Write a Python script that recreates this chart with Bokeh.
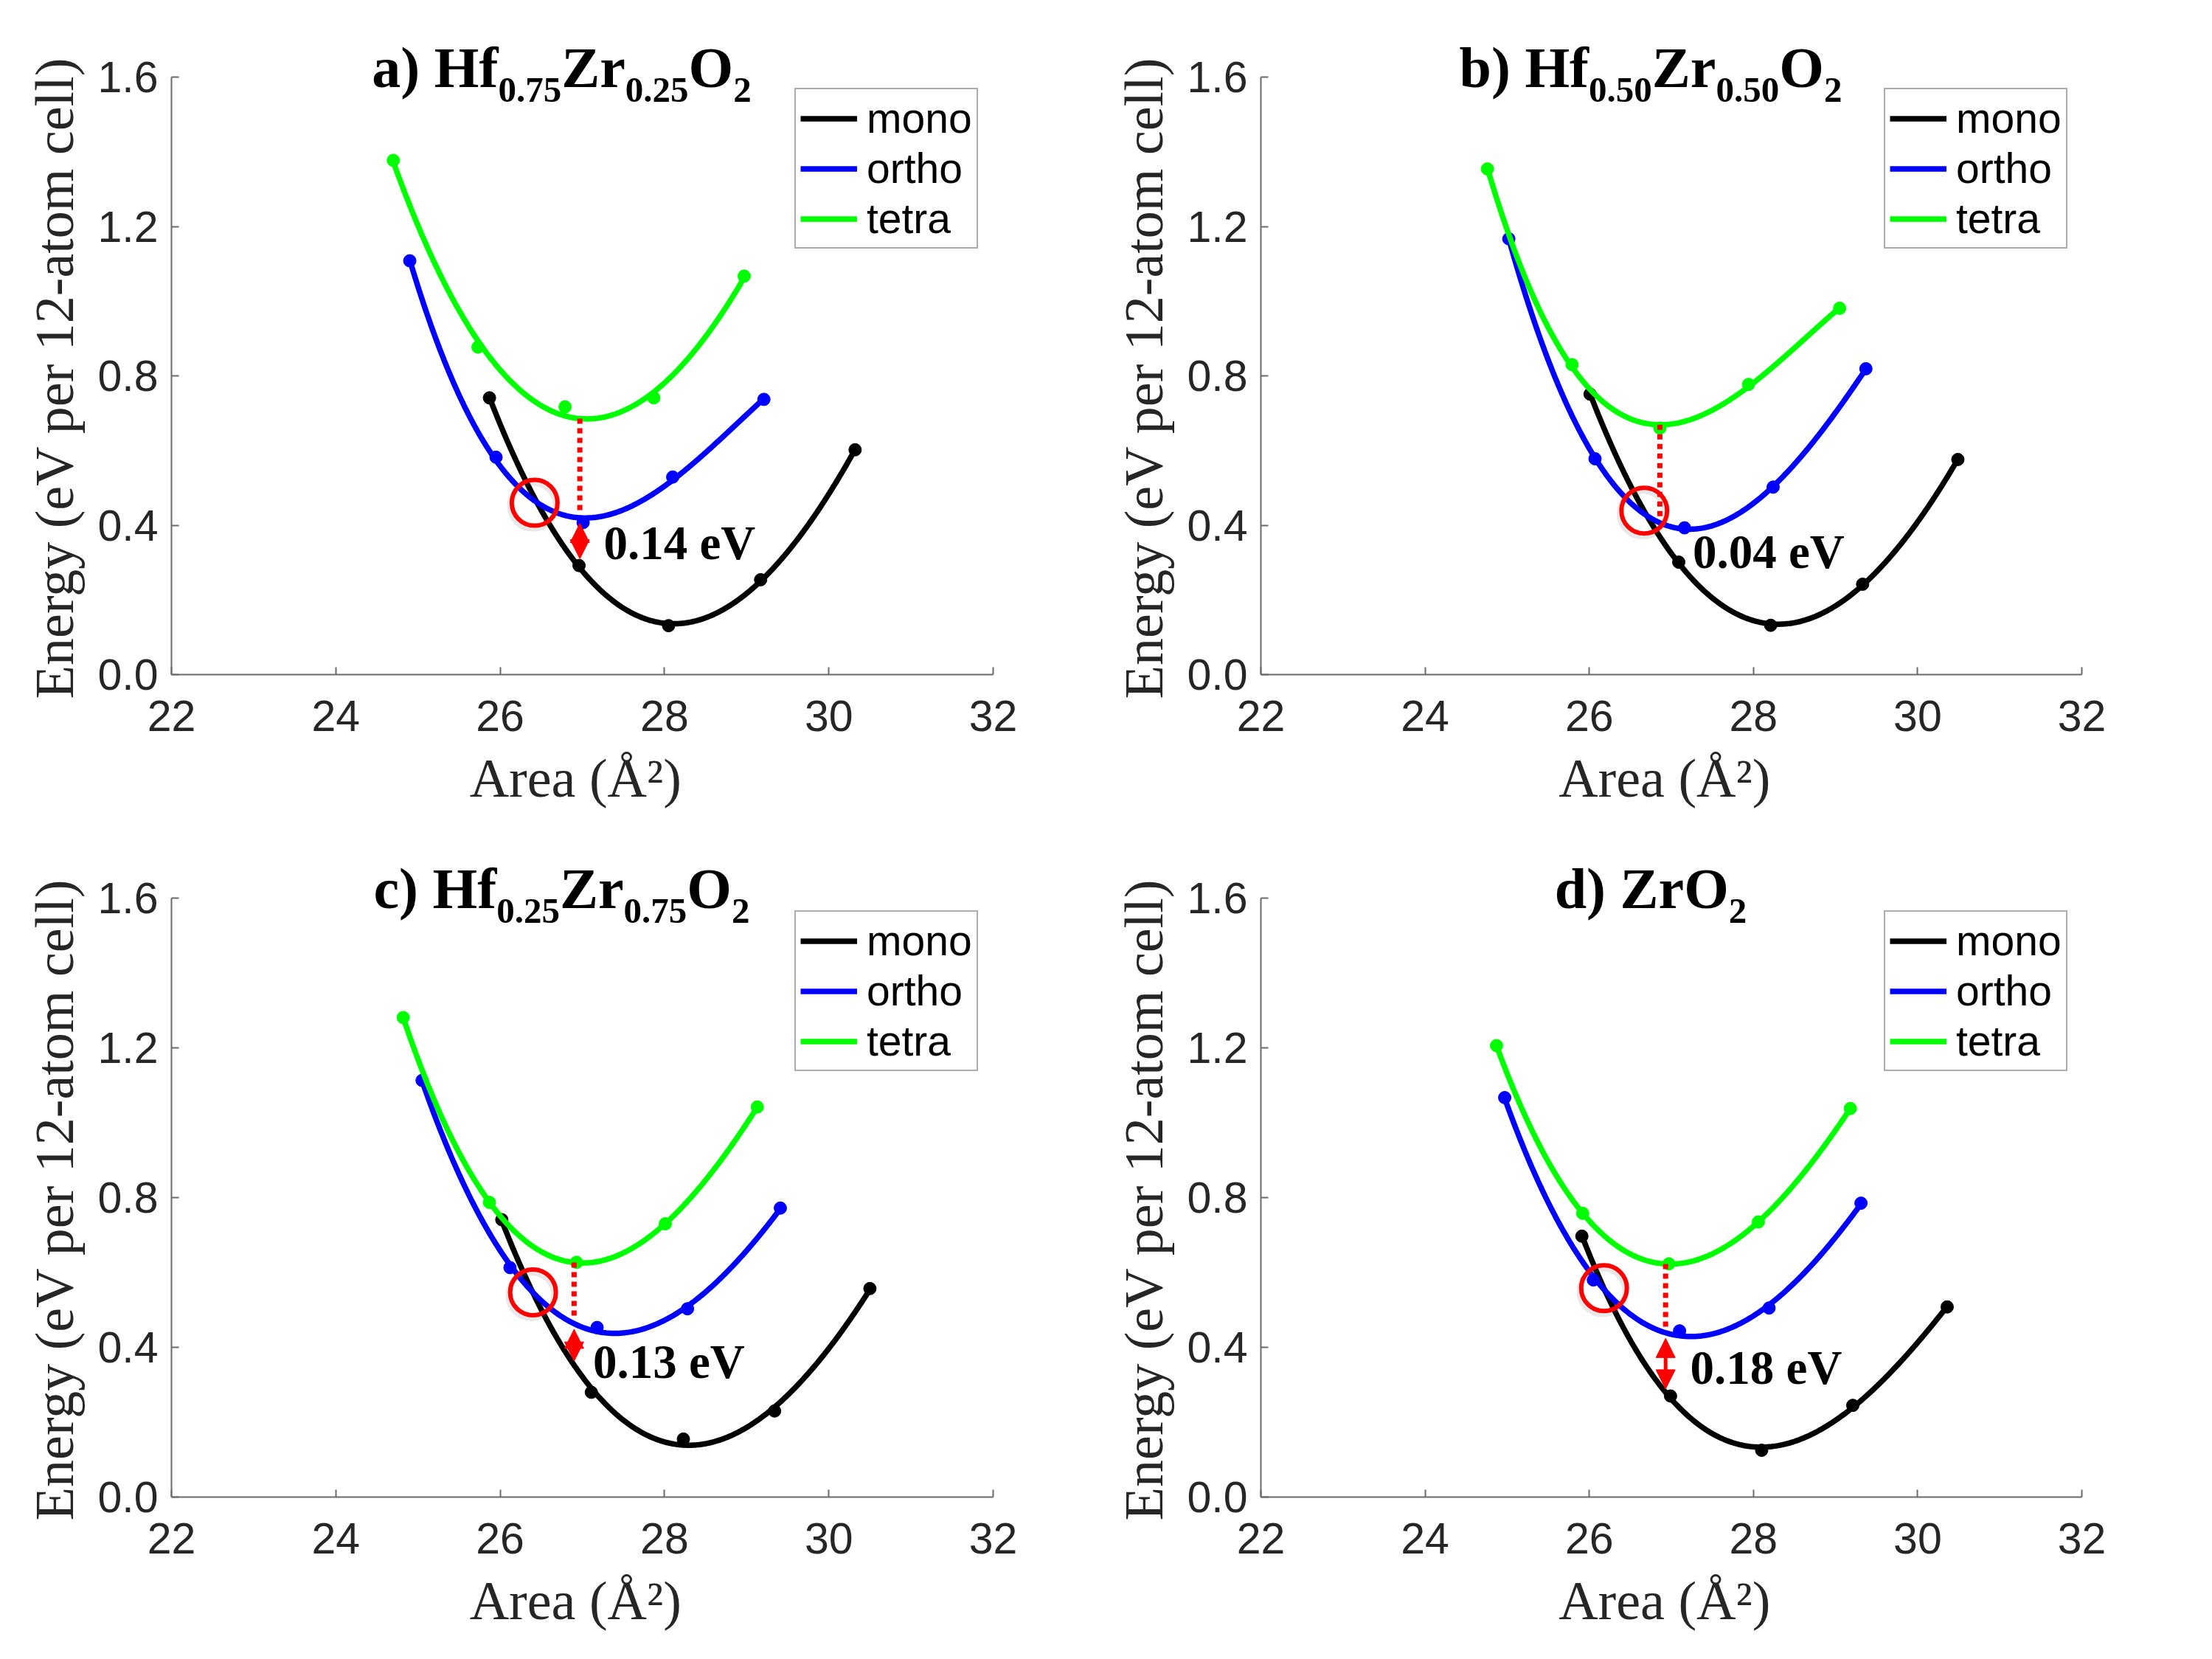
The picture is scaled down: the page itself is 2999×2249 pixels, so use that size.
import numpy as np
from bokeh.plotting import figure
from bokeh.layouts import gridplot
from bokeh.models import (Range1d, FixedTicker, PrintfTickFormatter, Legend,
                          LegendItem, Label, Arrow, NormalHead)
from bokeh.embed import file_html
from bokeh.resources import INLINE

# ---------------------------------------------------------------------------
# Energy (eV per 12-atom cell) versus in-plane area (Å^2) for each phase
# ---------------------------------------------------------------------------
# a) Hf0.75Zr0.25O2
a_mono_area = [25.87, 26.96, 28.05, 29.17, 30.32]
a_mono_energy = [0.741, 0.292, 0.131, 0.254, 0.602]
a_ortho_area = [24.90, 25.95, 27.01, 28.10, 29.21]
a_ortho_energy = [1.108, 0.582, 0.407, 0.529, 0.737]
a_tetra_area = [24.70, 25.73, 26.79, 27.87, 28.97]
a_tetra_energy = [1.377, 0.877, 0.717, 0.741, 1.067]

# b) Hf0.50Zr0.50O2
b_mono_area = [26.01, 27.09, 28.21, 29.33, 30.49]
b_mono_energy = [0.751, 0.301, 0.132, 0.242, 0.576]
b_ortho_area = [25.02, 26.07, 27.16, 28.24, 29.37]
b_ortho_energy = [1.167, 0.578, 0.393, 0.502, 0.819]
b_tetra_area = [24.76, 25.79, 26.86, 27.94, 29.05]
b_tetra_energy = [1.354, 0.830, 0.660, 0.777, 0.981]

# c) Hf0.25Zr0.75O2
c_mono_area = [26.02, 27.11, 28.23, 29.34, 30.50]
c_mono_energy = [0.741, 0.280, 0.155, 0.230, 0.557]
c_ortho_area = [25.05, 26.12, 27.18, 28.28, 29.41]
c_ortho_energy = [1.113, 0.613, 0.453, 0.503, 0.772]
c_tetra_area = [24.82, 25.87, 26.93, 28.01, 29.13]
c_tetra_energy = [1.281, 0.787, 0.627, 0.730, 1.042]

# d) ZrO2
d_mono_area = [25.91, 26.99, 28.10, 29.21, 30.36]
d_mono_energy = [0.697, 0.270, 0.125, 0.245, 0.508]
d_ortho_area = [24.97, 26.05, 27.10, 28.19, 29.31]
d_ortho_energy = [1.067, 0.580, 0.444, 0.505, 0.785]
d_tetra_area = [24.87, 25.92, 26.97, 28.06, 29.18]
d_tetra_energy = [1.206, 0.758, 0.623, 0.735, 1.038]

# ortho - mono energy difference quoted at the tetragonal minimum
gap_labels = ["0.14 eV", "0.04 eV", "0.13 eV", "0.18 eV"]
gap_values = [0.14, 0.04, 0.13, 0.18]
gap_area = [26.97, 26.86, 26.90, 26.93]
# mono/ortho crossing points that are circled
cross_area = [26.42, 26.67, 26.40, 26.18]
cross_energy = [0.460, 0.439, 0.547, 0.558]
# anchor (left end of the baseline) of the gap text
gap_text_area = [27.26, 27.26, 27.13, 27.23]
gap_text_energy = [0.307, 0.282, 0.315, 0.299]

# panel titles: (text, is_subscript)
titles = [
    [("a) Hf", 0), ("0.75", 1), ("Zr", 0), ("0.25", 1), ("O", 0), ("2", 1)],
    [("b) Hf", 0), ("0.50", 1), ("Zr", 0), ("0.50", 1), ("O", 0), ("2", 1)],
    [("c) Hf", 0), ("0.25", 1), ("Zr", 0), ("0.75", 1), ("O", 0), ("2", 1)],
    [("d) ZrO", 0), ("2", 1)],
]

phases = ["mono", "ortho", "tetra"]
phase_colors = ["#000000", "#0000ff", "#00ff00"]
x_ticks = [22, 24, 26, 28, 30, 32]
y_ticks = [0.0, 0.4, 0.8, 1.2, 1.6]

series = [
    [(a_mono_area, a_mono_energy), (a_ortho_area, a_ortho_energy), (a_tetra_area, a_tetra_energy)],
    [(b_mono_area, b_mono_energy), (b_ortho_area, b_ortho_energy), (b_tetra_area, b_tetra_energy)],
    [(c_mono_area, c_mono_energy), (c_ortho_area, c_ortho_energy), (c_tetra_area, c_tetra_energy)],
    [(d_mono_area, d_mono_energy), (d_ortho_area, d_ortho_energy), (d_tetra_area, d_tetra_energy)],
]

# Liberation Serif Bold advance widths (1/1000 em) for laying out the titles
BOLD_W = {'a': 500, ')': 333, ' ': 250, 'b': 556, 'c': 444, 'd': 556,
          'H': 778, 'f': 333, 'Z': 667, 'r': 444, 'O': 778, '.': 250}


def text_width(s, size):
    return sum(BOLD_W.get(ch, 500) for ch in s) * size / 1000.0


# figure geometry: (width, height, left, right, top of 1.6 line, bottom)
geometry = [
    (1500, 1120, 232, 154, 104, 206),
    (1499, 1120, 209, 177, 104, 206),
    (1500, 1129, 232, 154, 97, 220),
    (1499, 1129, 209, 177, 97, 220),
]

HEADROOM = 50       # px of frame kept above E = 1.6 for the title
MAIN_SIZE = 78
SUB_SIZE = 49
LABEL_LIFT = 0.36   # em; Label boxes sit this far below the requested baseline
AXIS_LABEL_SIZE = 74
NBSP = "\u00a0"
# non-breaking spaces at the top end keep the y label centred on 0 .. 1.6
Y_PAD = NBSP * round(HEADROOM / (0.25 * AXIS_LABEL_SIZE))


def make_panel(k):
    w, h, bl, br, bt, bb = geometry[k]
    axis_h = h - bt - bb
    px_per_e = axis_h / 1.6
    y_top = 1.6 + HEADROOM / px_per_e

    p = figure(width=w, height=h, output_backend="svg", toolbar_location=None,
               x_range=Range1d(22, 32), y_range=Range1d(0, y_top),
               min_border_left=bl, min_border_right=br,
               min_border_top=bt - HEADROOM, min_border_bottom=bb)
    p.outline_line_color = None
    p.grid.visible = False
    p.background_fill_color = "white"
    p.border_fill_color = "white"

    p.xaxis.ticker = FixedTicker(ticks=x_ticks)
    p.yaxis.ticker = FixedTicker(ticks=y_ticks)
    p.yaxis.bounds = (0, 1.6)
    p.xaxis.formatter = PrintfTickFormatter(format="%d")
    p.yaxis.formatter = PrintfTickFormatter(format="%.1f")
    p.xaxis.axis_label = "Area (Å²)" + NBSP
    p.yaxis.axis_label = "Energy (eV per 12-atom cell)" + Y_PAD
    for ax in (p.xaxis[0], p.yaxis[0]):
        ax.axis_line_color = "#6a6a6a"
        ax.axis_line_width = 2
        ax.major_tick_line_color = "#6a6a6a"
        ax.major_tick_line_width = 2
        ax.major_tick_in = 10
        ax.major_tick_out = 0
        ax.minor_tick_line_color = None
        ax.major_label_text_font = "Liberation Sans"
        ax.major_label_text_font_size = "59px"
        ax.major_label_text_color = "#262626"
        ax.axis_label_text_font = "Liberation Serif"
        ax.axis_label_text_font_size = f"{AXIS_LABEL_SIZE}px"
        ax.axis_label_text_font_style = "normal"
        ax.axis_label_text_color = "#262626"
    p.xaxis.major_label_standoff = 35
    p.yaxis.major_label_standoff = 18
    p.xaxis.axis_label_standoff = 20
    p.yaxis.axis_label_standoff = 14

    fits = []
    items = []
    for (area, energy), name, color in zip(series[k], phases, phase_colors):
        coef = np.polyfit(area, energy, 3)
        fits.append(coef)
        xs = np.linspace(area[0], area[-1], 300)
        r = p.line(xs, np.polyval(coef, xs), line_color=color, line_width=7.5)
        p.scatter(area, energy, size=17, marker="circle",
                  fill_color=color, line_color=color)
        items.append(LegendItem(label=name, renderers=[r]))

    # dotted drop from the tetragonal minimum to the orthorhombic curve
    x0 = gap_area[k]
    e_tetra = np.polyval(fits[2], x0)
    e_ortho = np.polyval(fits[1], x0)
    p.line([x0, x0], [e_tetra, e_ortho + 0.01], line_color="#ff0000",
           line_width=7, line_dash="7 6")

    # double arrow spanning the quoted ortho - mono gap
    if gap_values[k] * px_per_e > 44:
        p.add_layout(Arrow(
            start=NormalHead(size=26, fill_color="#ff0000", line_color="#ff0000"),
            end=NormalHead(size=26, fill_color="#ff0000", line_color="#ff0000"),
            x_start=x0, y_start=e_ortho - 0.015,
            x_end=x0, y_end=e_ortho - gap_values[k] + 0.03,
            line_color="#ff0000", line_width=5))

    # circled crossing of the mono and ortho curves
    p.scatter([cross_area[k] - 0.02], [cross_energy[k] - 0.008], size=62,
              marker="circle", fill_color=None, line_color="#808080",
              line_width=8, line_alpha=0.18)
    p.scatter([cross_area[k]], [cross_energy[k]], size=62, marker="circle",
              fill_color=None, line_color="#ff0000", line_width=6)

    gap_size = 65
    p.add_layout(Label(x=gap_text_area[k],
                       y=gap_text_energy[k] + LABEL_LIFT * gap_size / px_per_e,
                       text=gap_labels[k], text_font="Liberation Serif",
                       text_font_style="bold", text_font_size=f"{gap_size}px",
                       text_color="black", text_baseline="alphabetic",
                       text_align="left"))

    # title with subscripts, centred just left of the frame centre
    parts = titles[k]
    total = sum(text_width(t, SUB_SIZE if s else MAIN_SIZE) for t, s in parts)
    off = -28 - total / 2.0
    for t, s in parts:
        size = SUB_SIZE if s else MAIN_SIZE
        base_px = 35.0 if s else 15.0          # baseline below the E = 1.6 line
        y = 1.6 + (LABEL_LIFT * size - base_px) / px_per_e
        p.add_layout(Label(x=27, y=y, x_offset=off,
                           text=t, text_font="Liberation Serif",
                           text_font_style="bold", text_font_size=f"{size}px",
                           text_color="black", text_baseline="alphabetic",
                           text_align="left"))
        off += text_width(t, size)

    legend = Legend(items=items, location=(845, 577),
                    padding=6, spacing=2, glyph_width=77, glyph_height=61,
                    label_height=61, label_standoff=13,
                    label_text_font="Liberation Sans",
                    label_text_font_size="57px", label_text_color="black",
                    border_line_color="#5a5a5a", border_line_width=2,
                    background_fill_color="white", background_fill_alpha=1.0)
    p.add_layout(legend)
    return p


panels = [make_panel(k) for k in range(4)]
grid = gridplot([[panels[0], panels[1]], [panels[2], panels[3]]],
                toolbar_location=None)

open("out.html", "w").write(file_html(grid, INLINE))
